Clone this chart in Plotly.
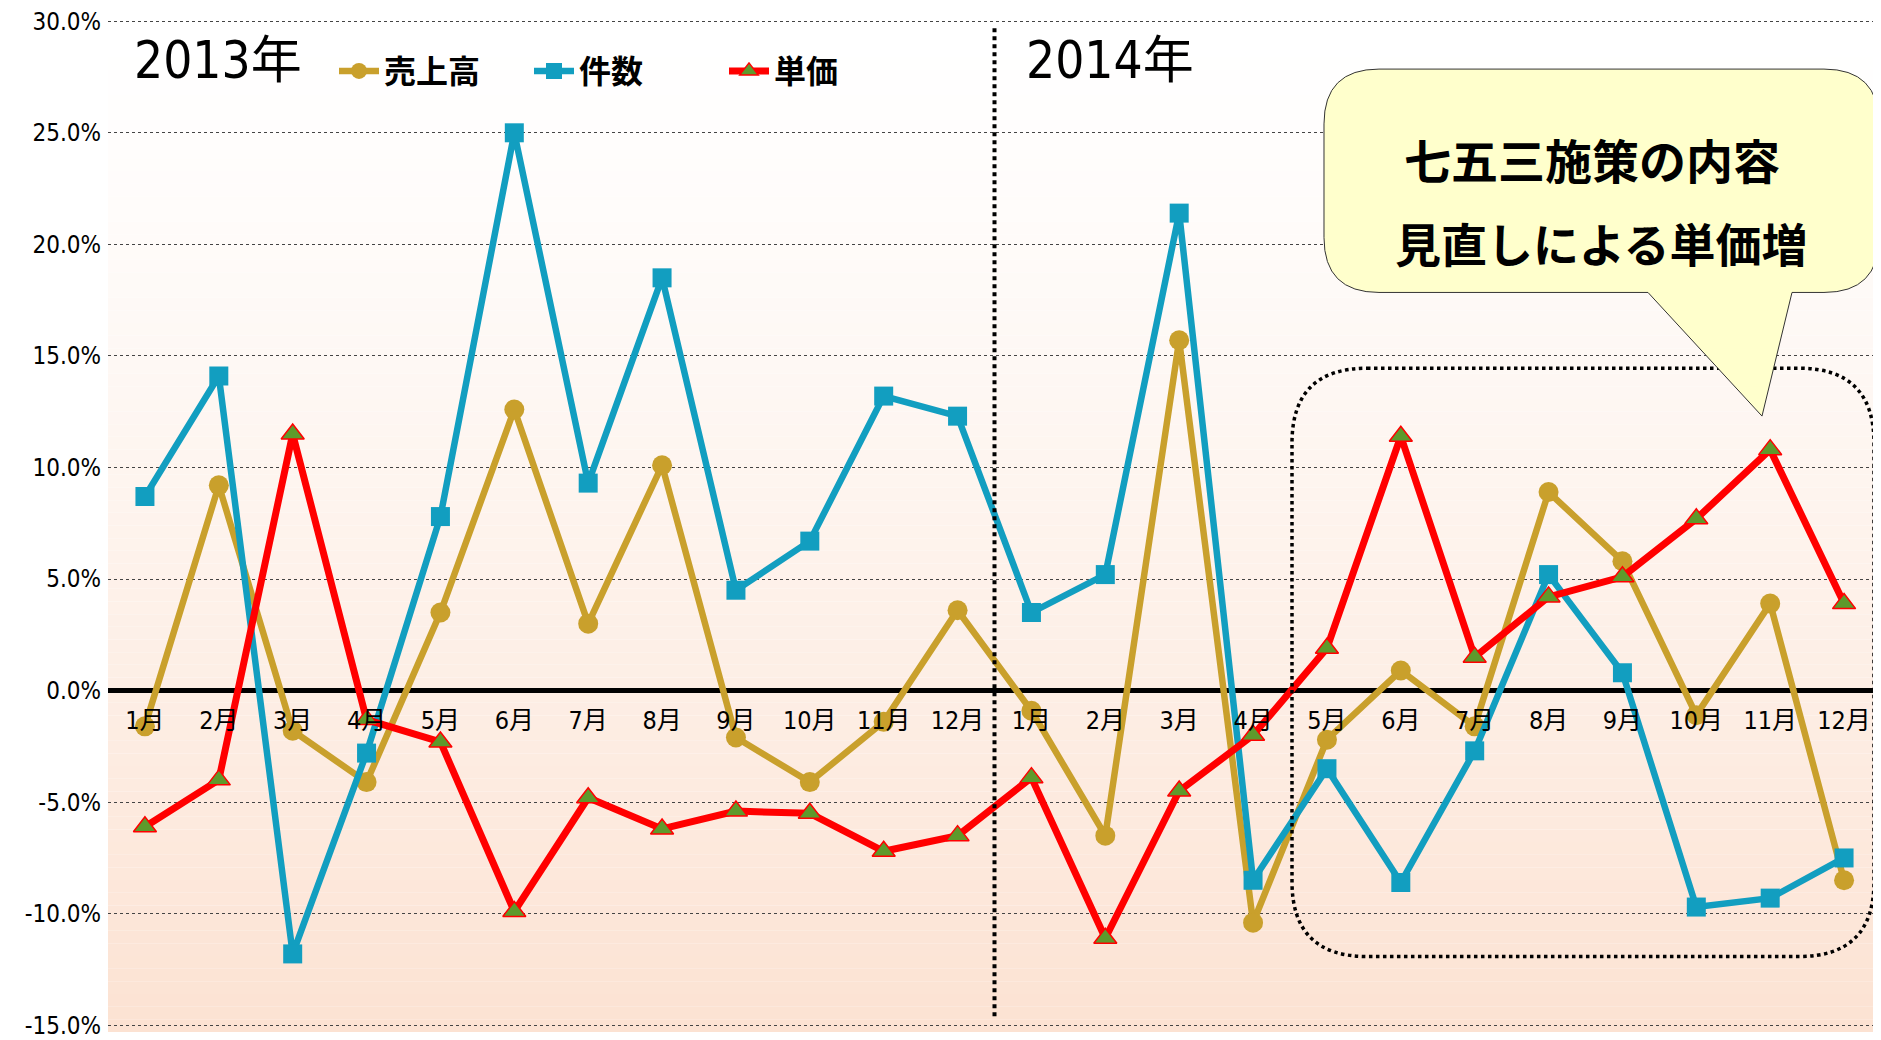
import plotly.graph_objects as go

months = ["1月", "2月", "3月", "4月", "5月", "6月", "7月", "8月", "9月", "10月", "11月", "12月"] * 2
sales = [-1.6, 9.2, -1.8, -4.1, 3.5, 12.6, 3.0, 10.1, -2.1, -4.1, -1.4, 3.6,
         -0.9, -6.5, 15.7, -10.4, -2.2, 0.9, -1.6, 8.9, 5.8, -1.1, 3.9, -8.5]
count = [8.7, 14.1, -11.8, -2.8, 7.8, 25.0, 9.3, 18.5, 4.5, 6.7, 13.2, 12.3,
         3.5, 5.2, 21.4, -8.5, -3.5, -8.6, -2.7, 5.2, 0.8, -9.7, -9.3, -7.5]
price = [-6.1, -4.0, 11.5, -1.3, -2.3, -9.9, -4.8, -6.2, -5.4, -5.5, -7.2, -6.5,
         -3.9, -11.1, -4.5, -2.0, 1.9, 11.4, 1.5, 4.2, 5.1, 7.7, 10.8, 3.9]
ytick_vals = [-15, -10, -5, 0, 5, 10, 15, 20, 25, 30]
ytick_text = ["-15.0%", "-10.0%", "-5.0%", "0.0%", "5.0%", "10.0%", "15.0%", "20.0%", "25.0%", "30.0%"]
idx = list(range(len(months)))

# page body has an 8px margin; work in screen pixels and convert
OFF = 8
SW, SH = 1881, 1040
W, H = SW - OFF, SH - OFF
Y0, Y1 = -15.3, 30.1
UNIT = 1007 / 45.0
SL, SR = 108, 1881
ST = 20 - (Y1 - 30) * UNIT
SB = 1027 + (-15 - Y0) * UNIT
def px(x): return (x - SL) / (SR - SL)
def py(y): return (SB - y) / (SB - ST)

CJK = "Noto Sans CJK JP"
NARROW = "DejaVu Sans Condensed, Noto Sans CJK JP, sans-serif"

fig = go.Figure()
fig.add_trace(go.Scatter(x=idx, y=sales, name="<b>売上高</b>", mode="lines+markers",
                         line=dict(color="#C9A02C", width=6.5),
                         marker=dict(symbol="circle", size=20, color="#C9A02C")))
fig.add_trace(go.Scatter(x=idx, y=count, name="<b>件数</b>", mode="lines+markers",
                         line=dict(color="#129EC0", width=6.5),
                         marker=dict(symbol="square", size=19, color="#129EC0")))
fig.add_trace(go.Scatter(x=idx, y=price, name="<b>単価</b>", mode="lines+markers",
                         line=dict(color="#FF0000", width=7),
                         marker=dict(symbol="triangle-up", size=20, color="#5E9A2C",
                                     line=dict(color="#FF0000", width=1.5))))

shapes = []
# gradient background bands
N = 80
top = (255, 255, 255)
bot = (252, 226, 210)
for i in range(N):
    t = (i + 0.5) / N
    t = t ** 1.3
    c = tuple(round(top[k] + (bot[k] - top[k]) * t) for k in range(3))
    shapes.append(dict(type="rect", xref="paper", yref="paper", layer="below",
                       x0=0, x1=1, y0=1 - (i + 1) / N, y1=1 - i / N,
                       line=dict(width=0), fillcolor="rgb(%d,%d,%d)" % c))

# vertical dotted divider between years
shapes.append(dict(type="line", xref="x", yref="paper", x0=11.5, x1=11.5,
                   y0=py(1018), y1=py(24), line=dict(color="black", width=4, dash="dot")))

def rrect(x1, y1, x2, y2, r, tail=None):
    s = "M %f,%f " % (px(x1 + r), py(y1))
    s += "L %f,%f " % (px(x2 - r), py(y1))
    s += "Q %f,%f %f,%f " % (px(x2), py(y1), px(x2), py(y1 + r))
    s += "L %f,%f " % (px(x2), py(y2 - r))
    s += "Q %f,%f %f,%f " % (px(x2), py(y2), px(x2 - r), py(y2))
    if tail:
        (bx2, tx, ty, bx1) = tail
        s += "L %f,%f " % (px(bx2), py(y2))
        s += "L %f,%f " % (px(tx), py(ty))
        s += "L %f,%f " % (px(bx1), py(y2))
    s += "L %f,%f " % (px(x1 + r), py(y2))
    s += "Q %f,%f %f,%f " % (px(x1), py(y2), px(x1), py(y2 - r))
    s += "L %f,%f " % (px(x1), py(y1 + r))
    s += "Q %f,%f %f,%f Z" % (px(x1), py(y1), px(x1 + r), py(y1))
    return s

# dotted highlight box
shapes.append(dict(type="path", xref="paper", yref="paper",
                   path=rrect(1292, 368, 1874, 958, 75),
                   line=dict(color="black", width=3.5, dash="dot")))
# callout
shapes.append(dict(type="path", xref="paper", yref="paper",
                   path=rrect(1324, 68, 1879, 292, 55, tail=(1792, 1762, 416, 1648)),
                   fillcolor="#FFFFCC", line=dict(color="#333333", width=1)))

annotations = [
    dict(text="2013年", xref="paper", yref="paper", x=px(132), y=py(59), xanchor="left",
         yanchor="middle", showarrow=False, font=dict(family=NARROW, size=51, color="black")),
    dict(text="2014年", xref="paper", yref="paper", x=px(1024), y=py(59), xanchor="left",
         yanchor="middle", showarrow=False, font=dict(family=NARROW, size=51, color="black")),
    dict(text="<b>七五三施策の内容</b>", xref="paper", yref="paper", x=px(1592), y=py(158),
         xanchor="center", yanchor="middle", showarrow=False,
         font=dict(family=CJK, size=47, color="black")),
    dict(text="<b>見直しによる単価増</b>", xref="paper", yref="paper", x=px(1601), y=py(241),
         xanchor="center", yanchor="middle", showarrow=False,
         font=dict(family=CJK, size=46, color="black")),
]

fig.update_layout(
    width=W, height=H,
    margin=dict(l=SL - OFF, r=SW - SR, t=ST - OFF, b=SH - SB, pad=0),
    paper_bgcolor="white", plot_bgcolor="white",
    shapes=shapes, annotations=annotations,
    showlegend=True,
    legend=dict(orientation="h", x=px(334), y=py(70), xanchor="left", yanchor="middle",
                bgcolor="rgba(0,0,0,0)", font=dict(family=CJK, size=32, color="black"),
                itemwidth=40, entrywidth=140, traceorder="normal"),
    xaxis=dict(range=[-0.5, 23.5], tickmode="array", tickvals=idx, ticktext=months,
               showgrid=False, zeroline=False, showline=False, ticks="",
               anchor="free", position=(0 - Y0) / (Y1 - Y0), ticklabelstandoff=12,
               tickfont=dict(family=NARROW, size=25, color="black")),
    yaxis=dict(range=[Y0, Y1], tickmode="array", tickvals=ytick_vals, ticktext=ytick_text,
               showgrid=True, gridcolor="#444444", gridwidth=1, griddash="dot",
               zeroline=True, zerolinecolor="black", zerolinewidth=4.5,
               showline=False, ticks="", ticklabelstandoff=6, ticklabeloverflow="allow",
               tickfont=dict(family=NARROW, size=24, color="black")),
)

fig.write_html("out.html")
